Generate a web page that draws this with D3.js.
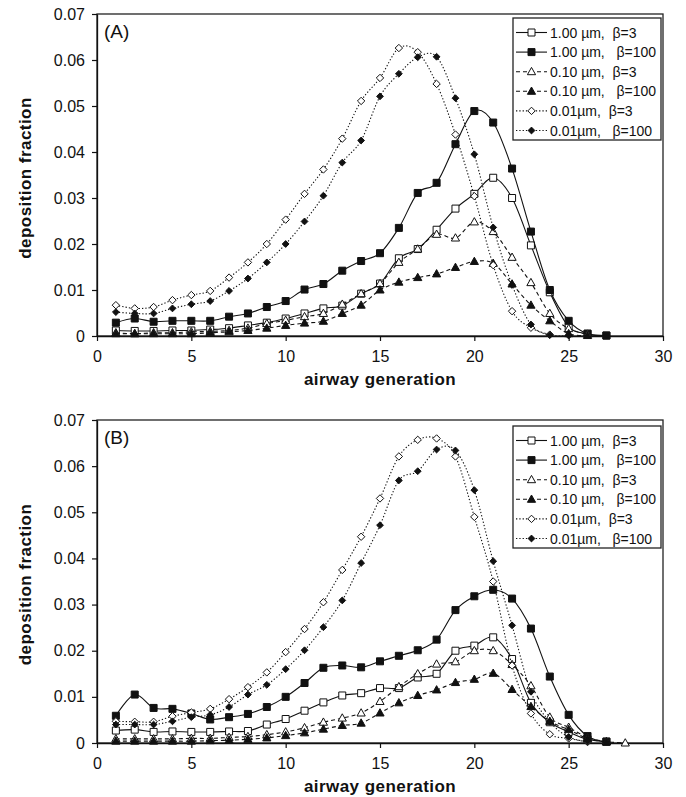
<!DOCTYPE html>
<html>
<head>
<meta charset="utf-8">
<script src="https://cdn.jsdelivr.net/npm/d3@7"></script>
<style>
  html, body { margin: 0; padding: 0; background: #fff; }
  svg { display: block; font-family: "Liberation Sans", Arial, sans-serif; }
  .lg text { white-space: pre; }
</style>
</head>
<body>
<svg id="chart" width="686" height="797"></svg>
<script>
// ---------- data ----------
const xTicks = [0, 5, 10, 15, 20, 25, 30];
const yTicks = [0, 0.01, 0.02, 0.03, 0.04, 0.05, 0.06, 0.07];
const seriesNames = ["1.00 \u00b5m,  \u03b2=3", "1.00 \u00b5m,   \u03b2=100", "0.10 \u00b5m,  \u03b2=3",
                     "0.10 \u00b5m,   \u03b2=100", "0.01\u00b5m,  \u03b2=3", "0.01\u00b5m,   \u03b2=100"];
const panelLabels = ["(A)", "(B)"];
// generations start at 1
const A_100_b3   = [0.0012,0.0011,0.0011,0.0012,0.0012,0.0014,0.0017,0.0023,0.0029,0.0038,0.0049,0.0060,0.0066,0.0092,0.0114,0.0169,0.0189,0.0231,0.0277,0.0309,0.0344,0.0300,0.0197,0.0095,0.0020,0.0005,0.0001];
const A_100_b100 = [0.0029,0.0038,0.0031,0.0033,0.0033,0.0033,0.0042,0.0049,0.0063,0.0076,0.0101,0.0113,0.0142,0.0163,0.0180,0.0235,0.0311,0.0333,0.0417,0.0489,0.0464,0.0364,0.0227,0.0100,0.0033,0.0005,0.0001];
const A_010_b3   = [0.0007,0.0005,0.0007,0.0007,0.0009,0.0010,0.0012,0.0017,0.0027,0.0034,0.0042,0.0049,0.0069,0.0092,0.0114,0.0160,0.0189,0.0221,0.0213,0.0248,0.0227,0.0171,0.0116,0.0049,0.0016,0.0004];
const A_010_b100 = [0.0005,0.0005,0.0005,0.0005,0.0005,0.0007,0.0009,0.0012,0.0017,0.0023,0.0028,0.0032,0.0049,0.0067,0.0100,0.0117,0.0127,0.0135,0.0149,0.0162,0.0158,0.0113,0.0067,0.0033,0.0005,0.0001];
const A_001_b3   = [0.0067,0.0060,0.0063,0.0078,0.0089,0.0098,0.0127,0.0160,0.0200,0.0253,0.0309,0.0362,0.0429,0.0511,0.0561,0.0626,0.0617,0.0548,0.0438,0.0304,0.0154,0.0054,0.0018,0.0003];
const A_001_b100 = [0.0052,0.0049,0.0049,0.0060,0.0069,0.0076,0.0098,0.0125,0.0160,0.0200,0.0249,0.0305,0.0377,0.0425,0.0521,0.0570,0.0606,0.0607,0.0517,0.0395,0.0236,0.0111,0.0025,0.0002,0.0001];

const B_100_b3   = [0.0027,0.0029,0.0024,0.0025,0.0024,0.0024,0.0025,0.0026,0.0040,0.0052,0.0070,0.0088,0.0103,0.0108,0.0119,0.0119,0.0142,0.0150,0.0200,0.0211,0.0229,0.0182,0.0087,0.0045,0.0024,0.0008,0.0003];
const B_100_b100 = [0.0059,0.0105,0.0076,0.0074,0.0064,0.0051,0.0056,0.0063,0.0078,0.0100,0.0130,0.0163,0.0168,0.0164,0.0177,0.0189,0.0201,0.0224,0.0288,0.0318,0.0332,0.0313,0.0248,0.0144,0.0061,0.0015,0.0003];
const B_010_b3   = [0.0009,0.0009,0.0009,0.0009,0.0010,0.0010,0.0012,0.0014,0.0018,0.0024,0.0033,0.0045,0.0054,0.0065,0.0090,0.0122,0.0150,0.0171,0.0176,0.0200,0.0200,0.0170,0.0124,0.0056,0.0034,0.0012,0.0003,0.0000];
const B_010_b100 = [0.0004,0.0004,0.0004,0.0004,0.0004,0.0005,0.0006,0.0008,0.0011,0.0016,0.0022,0.0030,0.0038,0.0043,0.0065,0.0087,0.0103,0.0115,0.0131,0.0138,0.0151,0.0116,0.0079,0.0047,0.0029,0.0010,0.0002];
const B_001_b3   = [0.0047,0.0046,0.0046,0.0058,0.0066,0.0074,0.0095,0.0121,0.0153,0.0197,0.0247,0.0305,0.0375,0.0447,0.0530,0.0621,0.0657,0.0660,0.0621,0.0490,0.0350,0.0168,0.0064,0.0019,0.0010,0.0002];
const B_001_b100 = [0.0040,0.0040,0.0040,0.0047,0.0056,0.0061,0.0078,0.0105,0.0126,0.0160,0.0201,0.0251,0.0309,0.0390,0.0472,0.0569,0.0589,0.0636,0.0634,0.0548,0.0394,0.0255,0.0111,0.0046,0.0013,0.0003];

const panelA = [A_100_b3, A_100_b100, A_010_b3, A_010_b100, A_001_b3, A_001_b100];
const panelB = [B_100_b3, B_100_b100, B_010_b3, B_010_b100, B_001_b3, B_001_b100];

// ---------- styles ----------
const markerShape = ["square", "square", "triangle", "triangle", "diamond", "diamond"];
const markerFilled = [false, true, false, true, false, true];
const lineDash = [null, null, "4,3", "4,3", "1.3,2", "1.3,2"];

const svg = d3.select("#chart");
const font = '"Liberation Sans", Arial, sans-serif';

function markerPath(shape) {
  if (shape === "square") return "M-3.5,-3.5H3.5V3.5H-3.5Z";
  if (shape === "triangle") return "M0,-4.3L4.1,3H-4.1Z";
  return "M0,-3.7L3.7,0L0,3.7L-3.7,0Z";
}
function markerPathFilled(shape) {
  if (shape === "diamond") return "M0,-3.4L3.4,0L0,3.4L-3.4,0Z";
  return markerPath(shape);
}

function drawPanel(data, top, bottom, label, legendTop) {
  const left = 97, right = 663;
  const x = d3.scaleLinear().domain([0, 30]).range([left, right]);
  const y = d3.scaleLinear().domain([0, 0.07]).range([bottom, top]);
  const g = svg.append("g");

  // plot frame
  g.append("rect").attr("x", left).attr("y", top)
    .attr("width", right - left).attr("height", bottom - top)
    .attr("fill", "none").attr("stroke", "#222").attr("stroke-width", 1.3);

  // axes
  const ya = g.append("g").attr("transform", `translate(${left},0)`)
    .call(d3.axisLeft(y).tickValues(yTicks).tickSize(5).tickSizeOuter(0).tickPadding(7)
      .tickFormat(d => d === 0 ? "0" : d3.format(".2f")(d)));
  const xa = g.append("g").attr("transform", `translate(0,${bottom})`)
    .call(d3.axisBottom(x).tickValues(xTicks).tickSize(5).tickSizeOuter(0).tickPadding(10));
  [ya, xa].forEach(a => {
    a.select(".domain").attr("stroke", "#111").attr("stroke-width", 1.3);
    a.selectAll(".tick line").attr("stroke", "#111").attr("stroke-width", 1.2);
    a.selectAll("text").attr("font-family", font).attr("font-size", 16).attr("fill", "#111");
  });

  // titles
  g.append("text").attr("x", 380).attr("y", bottom + 49)
    .attr("text-anchor", "middle").attr("font-family", font).attr("font-weight", "bold")
    .attr("font-size", 17).attr("letter-spacing", 0.45).attr("fill", "#111").text("airway generation");
  g.append("text").attr("transform", `translate(31,${(top + bottom) / 2 + 3}) rotate(-90)`)
    .attr("text-anchor", "middle").attr("font-family", font).attr("font-weight", "bold")
    .attr("font-size", 17).attr("letter-spacing", 0.45).attr("fill", "#111").text("deposition fraction");
  g.append("text").attr("x", 104).attr("y", top + 24)
    .attr("font-family", font).attr("font-size", 19).attr("fill", "#111").text(label);

  // series
  const line = d3.line().x((d, i) => x(i + 1)).y(d => y(d)).curve(d3.curveCatmullRom.alpha(0));
  data.forEach((vals, s) => {
    const sg = g.append("g");
    sg.append("path").attr("d", line(vals)).attr("fill", "none")
      .attr("stroke", "#111").attr("stroke-width", 1.1)
      .attr("stroke-dasharray", lineDash[s]);
    sg.selectAll("path.m").data(vals).join("path").attr("class", "m")
      .attr("transform", (d, i) => `translate(${x(i + 1)},${y(d)})`)
      .attr("d", markerFilled[s] ? markerPathFilled(markerShape[s]) : markerPath(markerShape[s]))
      .attr("fill", markerFilled[s] ? "#111" : "#fff")
      .attr("stroke", "#111").attr("stroke-width", 1);
  });

  // legend
  const lg = g.append("g").attr("class", "lg");
  lg.append("rect").attr("x", 513).attr("y", legendTop).attr("width", 148).attr("height", 122)
    .attr("fill", "#fff").attr("stroke", "#222").attr("stroke-width", 1.3);
  seriesNames.forEach((name, s) => {
    const cy = legendTop + 14.5 + s * 19.6;
    lg.append("line").attr("x1", 516).attr("x2", 547).attr("y1", cy).attr("y2", cy)
      .attr("stroke", "#111").attr("stroke-width", 1.1).attr("stroke-dasharray", lineDash[s]);
    lg.append("path").attr("transform", `translate(531.5,${cy})`)
      .attr("d", markerFilled[s] ? markerPathFilled(markerShape[s]) : markerPath(markerShape[s]))
      .attr("fill", markerFilled[s] ? "#111" : "#fff").attr("stroke", "#111").attr("stroke-width", 1);
    lg.append("text").attr("x", 550).attr("y", cy + 5).attr("font-family", font)
      .attr("font-size", 14).attr("fill", "#111").text(name);
  });
}

drawPanel(panelA, 14, 336, panelLabels[0], 18);
drawPanel(panelB, 420, 743, panelLabels[1], 426);
</script>
</body>
</html>
